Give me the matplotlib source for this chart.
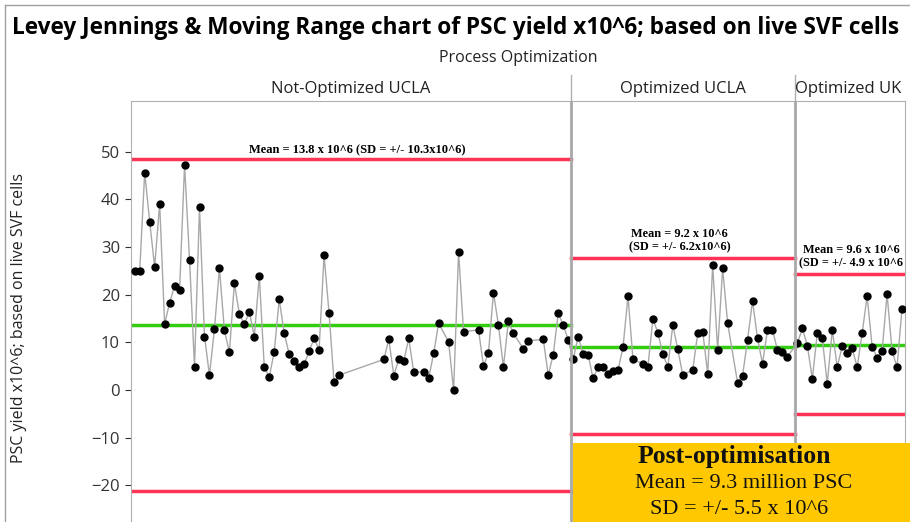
import matplotlib.pyplot as plt
import matplotlib.transforms as mtransforms
from matplotlib.patches import Rectangle
from matplotlib.lines import Line2D

# sample order / PSC yield (x10^6) per phase
x_not = [0, 1, 2, 3, 4, 5, 6, 7, 8, 9, 10, 11, 12, 13, 14, 15, 16, 17, 18, 19, 20,
         21, 22, 23, 24, 25, 26, 27, 28, 29, 30, 31, 32, 33, 34, 35, 36, 37, 38, 39,
         40, 41, 50, 51, 52, 53, 54, 55, 56, 58, 59, 60, 61, 63, 64, 65, 66, 69, 70,
         71, 72, 73, 74, 75, 76, 78, 79, 82, 83, 84, 85, 86, 87]
y_not = [25.0, 25.0, 45.6, 35.3, 25.8, 39.1, 13.8, 18.3, 21.8, 21.0, 47.2, 27.3, 4.8,
         38.3, 11.2, 3.1, 12.8, 25.5, 12.5, 7.9, 22.4, 15.9, 13.8, 16.3, 11.2, 24.0,
         4.8, 2.7, 8.0, 19.0, 11.9, 7.5, 6.1, 4.8, 5.4, 8.1, 10.8, 8.4, 28.2, 16.2,
         1.6, 3.1, 6.4, 10.6, 3.0, 6.5, 6.1, 10.8, 3.7, 3.8, 2.4, 7.7, 14.0, 10.1,
         -0.1, 28.9, 12.2, 12.6, 5.0, 7.8, 20.4, 13.6, 4.8, 14.4, 11.9, 8.6, 10.3,
         10.6, 3.1, 7.4, 16.1, 13.6, 10.5]

x_ucla = [88, 89, 90, 91, 92, 93, 94, 95, 96, 97, 98, 99, 100, 102, 103, 104, 105,
          106, 107, 108, 109, 110, 112, 113, 114, 115, 116, 117, 118, 119, 121, 122,
          123, 124, 125, 126, 127, 128, 129, 130, 131]
y_ucla = [6.4, 11.2, 7.5, 7.4, 2.4, 4.8, 4.9, 3.4, 4.0, 4.2, 8.9, 19.7, 6.4, 5.5, 4.9,
          14.9, 12.0, 7.5, 4.8, 13.6, 8.5, 3.1, 4.2, 11.9, 12.2, 3.4, 26.2, 8.4, 25.5,
          14.0, 1.5, 3.0, 10.5, 18.7, 10.8, 5.5, 12.6, 12.6, 8.4, 8.0, 7.0]

x_uk = [133, 134, 135, 136, 137, 138, 139, 140, 141, 142, 143, 144, 145, 146, 147,
        148, 149, 150, 151, 152, 153, 154]
y_uk = [9.8, 12.9, 9.3, 2.3, 12.0, 10.8, 1.3, 12.6, 4.8, 9.2, 7.8, 8.7, 4.8, 11.9,
        19.7, 9.1, 6.8, 8.2, 20.1, 8.2, 4.8, 17.0]

phases = ['Not-Optimized UCLA', 'Optimized UCLA', 'Optimized UK']
phase_bounds = [-0.75, 87.6, 132.5, 154.6]
ucl = [48.5, 27.7, 24.3]
center = [13.6, 9.0, 9.4]
lcl = [-21.2, -9.2, -5.0]
notes = ['Mean = 13.8 x 10^6 (SD = +/- 10.3x10^6)',
         'Mean = 9.2 x 10^6\n(SD = +/- 6.2x10^6)',
         'Mean = 9.6 x 10^6\n(SD = +/- 4.9 x 10^6']
note_x = [44.6, 109.4, 143.8]

xs = x_not + x_ucla + x_uk
ys = y_not + y_ucla + y_uk

fig = plt.figure(figsize=(9.1, 5.22), dpi=100)
ax = fig.add_axes([131 / 910, 0, (905 - 131) / 910, 421 / 522])

for i in range(3):
    a, b = phase_bounds[i], phase_bounds[i + 1]
    ax.plot([a, b], [ucl[i], ucl[i]], color='#ff3355', lw=2.5, zorder=2)
    ax.plot([a, b], [lcl[i], lcl[i]], color='#ff3355', lw=2.5, zorder=2)
    ax.plot([a, b], [center[i], center[i]], color='#33cc11', lw=2.5, zorder=2)

ax.plot(xs, ys, color='#a8a8a8', lw=1.0, zorder=3)
ax.plot(xs, ys, 'o', color='black', ms=5, zorder=4)

# phase dividers, running up through the header row
trans = mtransforms.blended_transform_factory(ax.transData, ax.transAxes)
for d in phase_bounds[1:3]:
    ax.add_line(Line2D([d, d], [0, 1], transform=trans, color='#a8a8a8', lw=2, zorder=5))
    ax.add_line(Line2D([d, d], [1, 1.062], transform=trans, color='#b0b0b0', lw=1,
                       clip_on=False))

for i, name in enumerate(phases):
    mid = (phase_bounds[i] + phase_bounds[i + 1]) / 2
    if i == 2:
        ax.text(phase_bounds[i] + 0.1, 1.028, name, transform=trans, ha='left',
                va='center', fontsize=12, family='Open Sans', color='#222222')
    else:
        ax.text(mid, 1.028, name, transform=trans, ha='center', va='center',
                fontsize=12, family='Open Sans', color='#222222')

ax.text(note_x[0], ucl[0] + 0.6, notes[0], ha='center', va='bottom', fontsize=9,
        fontweight='bold', family='Liberation Serif')
for i in (1, 2):
    ax.text(note_x[i], ucl[i] + 0.9, notes[i], ha='center', va='bottom', fontsize=8.8,
            fontweight='bold', family='Liberation Serif', linespacing=1.2)

ax.set_xlim(phase_bounds[0], phase_bounds[-1])
ax.set_ylim(-27.7, 60.6)
ax.set_yticks([50, 40, 30, 20, 10, 0, -10, -20])
ax.set_xticks([])
ax.tick_params(axis='y', labelsize=12, colors='#333333', length=4, width=0.8,
               direction='out', pad=4)
for lab in ax.get_yticklabels():
    lab.set_family('Open Sans')
for s in ['left', 'top', 'right']:
    ax.spines[s].set_color('#b0b0b0')
ax.spines['bottom'].set_visible(False)

ax.set_ylabel('PSC yield x10^6; based on live SVF cells', fontsize=11.5,
              family='Open Sans', color='#222222')
ax.yaxis.set_label_coords(-0.135, 0.485)

fig.text(12 / 910, 1 - 28 / 522, 'Levey Jennings & Moving Range chart of PSC yield x10^6; based on live SVF cells',
         ha='left', va='center', fontsize=16.3, fontweight='bold', family='Open Sans')
fig.text(518 / 910, 1 - 58 / 522, 'Process Optimization', ha='center', va='center',
         fontsize=11.5, family='Open Sans', color='#222222')

# outer frame
fig.add_artist(Line2D([5 / 910, 1], [1 - 5 / 522] * 2, transform=fig.transFigure,
                      color='#a0a0a0', lw=1))
fig.add_artist(Line2D([5 / 910] * 2, [0, 1 - 5 / 522], transform=fig.transFigure,
                      color='#a0a0a0', lw=1))

# summary box
fig.patches.append(Rectangle((573 / 910, 0), 337 / 910, 79 / 522, transform=fig.transFigure,
                             facecolor='#ffc800', edgecolor='none', zorder=10))
fig.text(734 / 910, 1 - 456 / 522, 'Post-optimisation', ha='center', va='center',
         fontsize=18.5, fontweight='bold', family='Liberation Serif', color='#111111', zorder=11)
fig.text(744 / 910, 1 - 483 / 522, 'Mean = 9.3 million PSC', ha='center', va='center',
         fontsize=16, family='Liberation Serif', color='#111111', zorder=11)
fig.text(739 / 910, 1 - 509 / 522, 'SD = +/- 5.5 x 10^6', ha='center', va='center',
         fontsize=16, family='Liberation Serif', color='#111111', zorder=11)

fig.savefig('out.png', dpi=100)
